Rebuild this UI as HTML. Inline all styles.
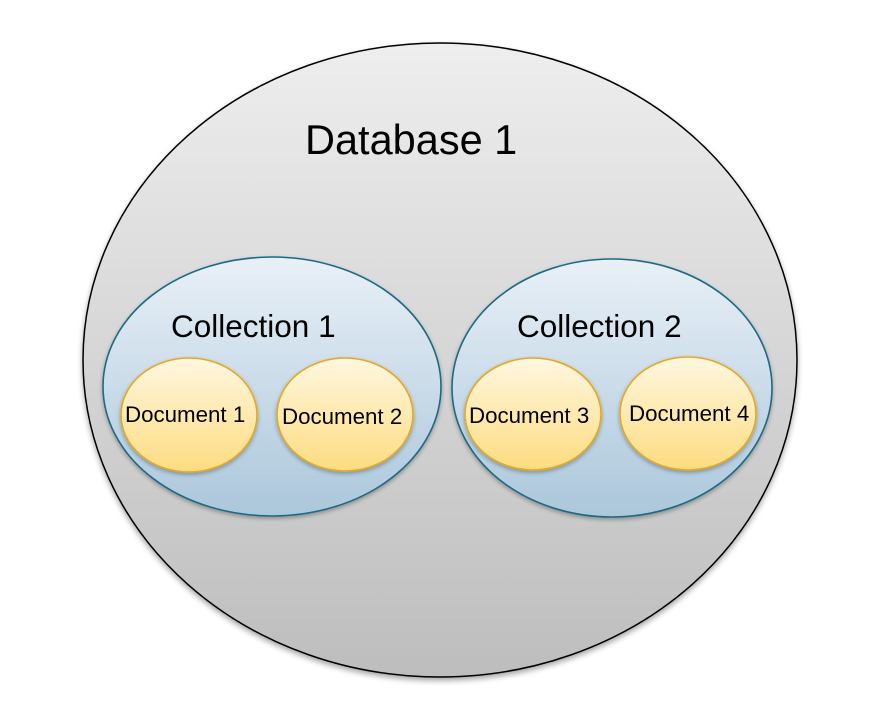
<!DOCTYPE html>
<html>
<head>
<meta charset="utf-8">
<style>
html,body{margin:0;padding:0;background:#fff;width:876px;height:711px;overflow:hidden;}
svg{display:block;}
text{font-family:"Liberation Sans",Arial,sans-serif;fill:#000;}
</style>
</head>
<body>
<svg width="876" height="711" viewBox="0 0 876 711" xmlns="http://www.w3.org/2000/svg">
<defs>
<linearGradient id="gDb" x1="0" y1="0" x2="0" y2="1">
<stop offset="0" stop-color="#eeeeee"/>
<stop offset="1" stop-color="#bdbdbd"/>
</linearGradient>
<linearGradient id="gCol" x1="0" y1="0" x2="0" y2="1">
<stop offset="0" stop-color="#e9f0f7"/>
<stop offset="1" stop-color="#abc7db"/>
</linearGradient>
<linearGradient id="gDoc" x1="0" y1="0" x2="0" y2="1">
<stop offset="0" stop-color="#fff7e0"/>
<stop offset="1" stop-color="#fddc80"/>
</linearGradient>
<filter id="sh" x="-10%" y="-10%" width="120%" height="125%">
<feGaussianBlur in="SourceAlpha" stdDeviation="3"/>
<feOffset dx="0" dy="3" result="b"/>
<feComponentTransfer><feFuncA type="linear" slope="0.35"/></feComponentTransfer>
<feMerge><feMergeNode/><feMergeNode in="SourceGraphic"/></feMerge>
</filter>
<filter id="sh2" x="-10%" y="-10%" width="120%" height="125%">
<feGaussianBlur in="SourceAlpha" stdDeviation="2"/>
<feOffset dx="0" dy="2" result="b"/>
<feComponentTransfer><feFuncA type="linear" slope="0.3"/></feComponentTransfer>
<feMerge><feMergeNode/><feMergeNode in="SourceGraphic"/></feMerge>
</filter>
</defs>

<ellipse cx="440" cy="360" rx="357" ry="317" fill="url(#gDb)" stroke="#000" stroke-width="1.5" filter="url(#sh)"/>
<text x="305" y="154" font-size="41.5">Database 1</text>

<ellipse cx="272" cy="386.5" rx="169" ry="129.5" fill="url(#gCol)" stroke="#1d6a84" stroke-width="1.6" filter="url(#sh2)"/>
<text x="171" y="337" font-size="31.5">Collection 1</text>

<ellipse cx="612" cy="388" rx="160" ry="129" fill="url(#gCol)" stroke="#1d6a84" stroke-width="1.6" filter="url(#sh2)"/>
<text x="517" y="337" font-size="31.5">Collection 2</text>

<ellipse cx="189" cy="415" rx="68" ry="57" fill="url(#gDoc)" stroke="#e6a822" stroke-width="1.6" filter="url(#sh2)"/>
<text x="125" y="422" font-size="22.3">Document 1</text>

<ellipse cx="345" cy="414.5" rx="68" ry="56.5" fill="url(#gDoc)" stroke="#e6a822" stroke-width="1.6" filter="url(#sh2)"/>
<text x="282" y="424" font-size="22.3">Document 2</text>

<ellipse cx="533" cy="414" rx="68" ry="56" fill="url(#gDoc)" stroke="#e6a822" stroke-width="1.6" filter="url(#sh2)"/>
<text x="469" y="423" font-size="22.3">Document 3</text>

<ellipse cx="688" cy="413.5" rx="68" ry="56.5" fill="url(#gDoc)" stroke="#e6a822" stroke-width="1.6" filter="url(#sh2)"/>
<text x="629" y="421" font-size="22.3">Document 4</text>
</svg>
</body>
</html>
